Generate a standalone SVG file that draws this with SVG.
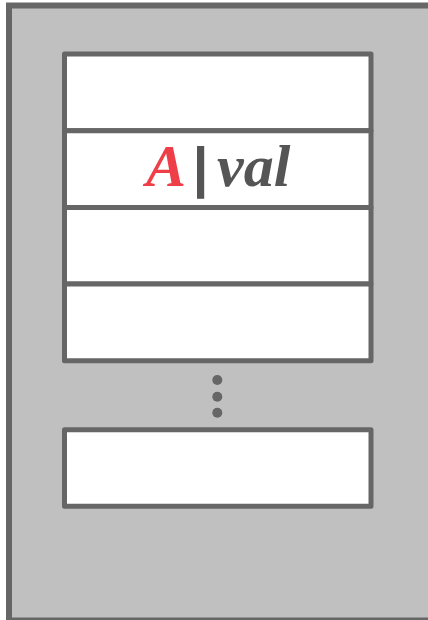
<svg xmlns="http://www.w3.org/2000/svg" width="428" height="620" viewBox="0 0 428 620">
  <style>
    .frame { fill: #c0c0c0; stroke: #666666; stroke-width: 6; }
    .cell { fill: #ffffff; stroke: #666666; stroke-width: 5; stroke-linejoin: round; }
    .dot { fill: #666666; }
    .lbl { font-family: "Liberation Serif", "Times New Roman", serif; font-size: 60px; font-weight: bold; font-style: italic; }
  </style>
  <rect width="428" height="620" fill="#ffffff"/>
  <g id="container">
    <rect class="frame" x="9" y="5.5" width="426" height="615"/>
  </g>
  <g id="row1"><rect class="cell" x="64.5" y="54" width="306.5" height="76.7"/></g>
  <g id="row2">
    <rect class="cell" x="64.5" y="130.7" width="306.5" height="76.7"/>
    <text class="lbl" x="146" y="186" fill="#ee3f48">A</text>
    <text x="200.5" y="186" text-anchor="middle" font-family="Liberation Sans, Arial, sans-serif" font-weight="bold" font-size="56px" fill="#555555">|</text>
    <text class="lbl" x="217" y="186" fill="#555555">val</text>
  </g>
  <g id="row3"><rect class="cell" x="64.5" y="207.4" width="306.5" height="76.7"/></g>
  <g id="row4"><rect class="cell" x="64.5" y="284.1" width="306.5" height="76.7"/></g>
  <g id="ellipsis">
    <circle class="dot" cx="217.3" cy="380" r="5"/>
    <circle class="dot" cx="217.3" cy="396.7" r="5"/>
    <circle class="dot" cx="217.3" cy="412.7" r="5"/>
  </g>
  <g id="rowN"><rect class="cell" x="64.5" y="429.7" width="306.5" height="76.6"/></g>
  <g id="connectors"></g>
</svg>
